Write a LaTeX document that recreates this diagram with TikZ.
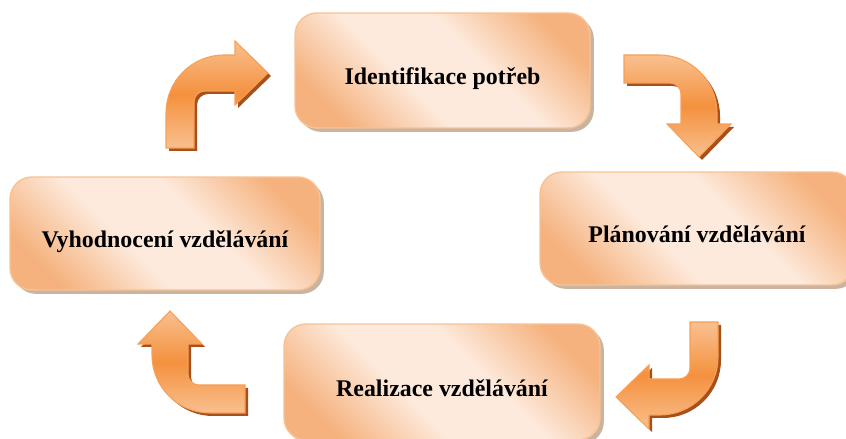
\documentclass[tikz,border=0pt]{standalone}
\usepackage{fontspec}
\setmainfont{Liberation Serif}
\usetikzlibrary{positioning,shadows}

\definecolor{boxpeach}{HTML}{F5B27E}
\definecolor{boxlight}{HTML}{FDEADC}
\definecolor{boxline}{HTML}{F8C293}
\definecolor{arroworange}{HTML}{F4913E}
\definecolor{arrowlight}{HTML}{F9C08F}
\definecolor{arrowline}{HTML}{F7A057}
\definecolor{arrowdark}{HTML}{A8501A}

% diagonal fill of the stage boxes: light band, peach corners
\pgfdeclareverticalshading{stagefill}{100bp}{color(0bp)=(boxpeach); color(24bp)=(boxpeach);
    color(42bp)=(boxlight); color(58bp)=(boxlight); color(76bp)=(boxpeach); color(100bp)=(boxpeach)}

% bent block arrow, tail at the origin pointing up, head pointing right
\newcommand\bentarrowpath{(-14,0) -- (-14,35) arc[start angle=180, end angle=90, radius=58]
    -- (55,93) -- (55,107) -- (88,75) -- (55,43) -- (55,57) -- (25,57)
    arc[start angle=90, end angle=180, radius=11] -- (14,0) -- cycle}

\begin{document}
\begin{tikzpicture}[
    x=0.02cm, y=0.02cm,
    stage/.style={rectangle, draw=boxline, line width=0.8pt, rounded corners=0.44cm,
        shade, shading=stagefill, shading angle=-45,
        drop shadow={shadow xshift=2.2pt, shadow yshift=-2.2pt, fill=brown!70!black, opacity=.45},
        font=\fontsize{13.6}{16}\selectfont\bfseries, text height=1.9em, text depth=.25em},
    arrowshade/.style={draw=arrowline, line width=0.6pt, top color=arrowlight, bottom color=arrowlight, middle color=arroworange},
    arrowshadow/.style={fill=arrowdark}
]
    \useasboundingbox (0,0) rectangle (846,439);
    \clip (0,0) rectangle (846,439);

    \node [stage, minimum width=5.9cm, minimum height=2.3cm] (ident) at (442.5,368.5) {Identifikace potřeb};
    \node [stage, minimum width=6.28cm, minimum height=2.26cm] (plan) at (697,210.5) {Plánování vzdělávání};
    \node [stage, minimum width=6.32cm, minimum height=2.32cm] (real) at (442,57) {Realizace vzdělávání};
    \node [stage, minimum width=6.2cm, minimum height=2.26cm] (eval) at (165,205.5) {Vyhodnocení vzdělávání};

    % the four bent arrows of the cycle
    \foreach \px/\py/\ang in {180/291/0, 624/370/-90, 704/117/180, 245/40/90} {
        \fill [arrowshadow, shift={(\px+3,\py-3)}, rotate=\ang] \bentarrowpath;
        \shade [arrowshade, shift={(\px,\py)}, rotate=\ang] \bentarrowpath;
    }
\end{tikzpicture}
\end{document}
